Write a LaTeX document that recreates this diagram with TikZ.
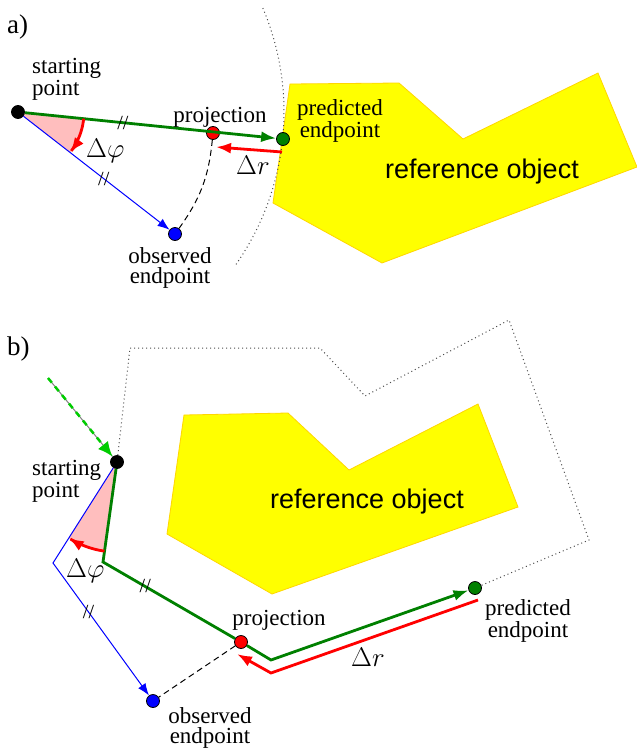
\RequirePackage{fix-cm}
\documentclass[tikz,border=0pt]{standalone}
\usepackage{fontspec}
\setmainfont{Liberation Serif}
\setsansfont{Liberation Sans}
\usetikzlibrary{arrows.meta}
\definecolor{fwdgreen}{RGB}{0,128,0}
\definecolor{ingreen}{RGB}{0,204,0}
\definecolor{objyellow}{RGB}{255,255,0}
\definecolor{objedge}{RGB}{255,214,0}
\definecolor{wedgepink}{RGB}{255,190,190}

\begin{document}
\begin{tikzpicture}[x=1pt,y=-1pt,
    >={Latex[length=15pt,width=11pt]},
    dot/.style={circle,draw,line width=0.8pt,fill=#1,minimum size=13pt,inner sep=0pt},
    lbl/.style={font=\fontsize{23}{20}\selectfont,inner sep=0pt,align=center,anchor=base},
    panel/.style={font=\fontsize{27}{27}\selectfont,inner sep=0pt,anchor=base west},
    mlbl/.style={font=\fontsize{27}{27}\selectfont,inner sep=0pt,anchor=base west},
    objtext/.style={font=\sffamily\fontsize{27}{27}\selectfont,inner sep=0pt},
    tick/.style={font=\fontsize{20}{20}\selectfont,inner sep=0pt,text=black},
    object/.style={fill=objyellow,draw=objedge,line width=0.8pt},
    fwd/.style={draw=fwdgreen,line width=2.8pt},
    obs/.style={draw=blue,line width=1pt,-{Latex[length=12pt,width=9pt]}},
    diff/.style={draw=red,line width=2.8pt},
    arcline/.style={black,line width=1pt,dash pattern=on 6pt off 4pt},
    bound/.style={black!70,line width=1pt,dash pattern=on 1pt off 3pt}]
  \useasboundingbox (0,0) rectangle (637,750);

  % ---------- a) ----------
  \node[panel] at (7,33) {a)};
  \draw[object] (290,84) -- (399,83) -- (463,139) -- (598,73) -- (637,167)
    -- (382,263) -- (273,203) -- cycle;
  \node[objtext] (refa) at (482,172) {reference object};
  \draw[bound] plot[domain=-23:35,samples=60] ({18+266*cos(\x)},{112+266*sin(\x)});
  \fill[wedgepink] (18,112) -- plot[domain=5.8:37.8,samples=20] ({18+66*cos(\x)},{112+66*sin(\x)}) -- cycle;

  % Nodes
  \node[dot=black] (sa) at (18,112) {};
  \node[dot=red] (pa) at (213,133) {};
  \node[dot=fwdgreen] (ea) at (283,139) {};
  \node[dot=blue] (oa) at (175,234) {};
  \coordinate (ra1) at (282,152);
  \coordinate (ra2) at (216,147);

  % Edges
  \draw[fwd,->] (sa) -- node[tick,pos=0.39] {//} (ea);
  \draw[obs] (sa) -- node[tick,pos=0.55] {//} (oa);
  \draw[diff,->] (ra1) -- (ra2);
  \draw[arcline] (pa) to[bend left=15] (oa);
  \draw[red,line width=2.8pt,->] plot[domain=5.8:37.8,samples=20] ({18+66*cos(\x)},{112+66*sin(\x)});

  % Labels
  \node[lbl,align=left,anchor=base west] at (32,95) {starting\\point};
  \node[lbl] at (220,122) {projection};
  \node[lbl] at (340,137) {predicted\\endpoint};
  \node[lbl] at (170,283) {observed\\endpoint};
  \node[mlbl] at (86,157) {$\Delta\varphi$};
  \node[mlbl] at (236,174) {$\Delta r$};

  % ---------- b) ----------
  \node[panel] at (7,355) {b)};
  \draw[object] (184,415) -- (288,413) -- (349,470) -- (478,404) -- (518,507)
    -- (272,594) -- (167,534) -- cycle;
  \node[objtext] (refb) at (367,502) {reference object};
  \fill[wedgepink] (117,462) -- plot[domain=98:122.4,samples=20] ({117+90*cos(\x)},{462+90*sin(\x)}) -- cycle;

  % Nodes
  \node[dot=black] (sb) at (117,462) {};
  \node[dot=red] (pb) at (241,642) {};
  \node[dot=fwdgreen] (eb) at (475,588) {};
  \node[dot=blue] (ob) at (153,701) {};
  \coordinate (inb) at (48,378);
  \coordinate (gb1) at (103,562);
  \coordinate (gb2) at (271,660);
  \coordinate (bb1) at (53,563);
  \coordinate (rb1) at (478,600);
  \coordinate (rb2) at (271,673);
  \coordinate (rb3) at (237,654);

  % Edges
  \draw[bound] (sb) -- (130,348) -- (320,348) -- (365,396) -- (509,320)
    -- (589,540) -- (eb);
  \draw[gray,line width=1pt] (inb) -- (sb);
  \draw[draw=ingreen,line width=2.5pt,dash pattern=on 6pt off 5pt,
    -{Latex[length=15pt,width=13pt,fill=ingreen]}] (inb) -- (sb);
  \draw[fwd,->] (sb) -- (gb1) -- node[tick,pos=0.32] {//} (pb) -- (gb2) -- (eb);
  \draw[obs] (sb) -- (bb1) -- node[tick,pos=0.37] {//} (ob);
  \draw[diff,->] (rb1) -- (rb2) -- (rb3);
  \draw[arcline] (pb) -- (ob);
  \draw[red,line width=2.8pt,->] plot[domain=98:122.4,samples=20] ({117+90*cos(\x)},{462+90*sin(\x)});

  % Labels
  \node[lbl,align=left,anchor=base west] at (32,497) {starting\\point};
  \node[lbl] at (279,625) {projection};
  \node[lbl] at (528,637) {predicted\\endpoint};
  \node[lbl] at (210,743) {observed\\endpoint};
  \node[mlbl] at (66,577) {$\Delta\varphi$};
  \node[mlbl] at (351,666) {$\Delta r$};
\end{tikzpicture}
\end{document}
